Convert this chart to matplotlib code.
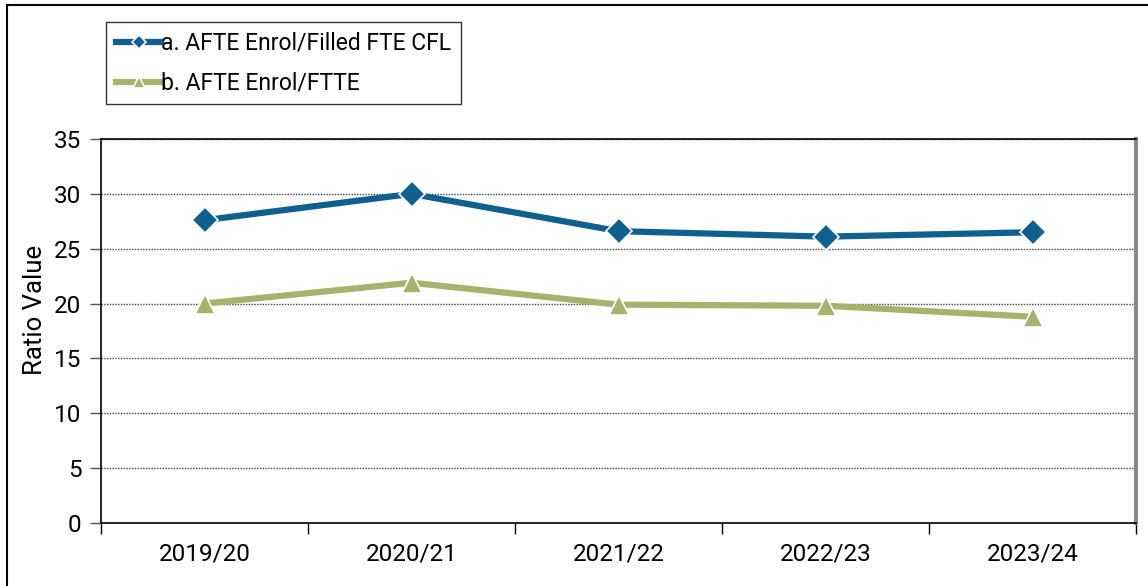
import matplotlib.pyplot as plt
from matplotlib.patches import Rectangle

years = ["2019/20", "2020/21", "2021/22", "2022/23", "2023/24"]
enrol_filled_cfl = [27.6, 30.0, 26.6, 26.1, 26.5]
enrol_ftte = [20.0, 21.9, 19.9, 19.8, 18.8]
labels = ["a. AFTE Enrol/Filled FTE CFL", "b. AFTE Enrol/FTTE"]

plt.rcParams['font.family'] = ['Roboto', 'DejaVu Sans']
fig = plt.figure(figsize=(11.48, 5.86), dpi=100)
ax = fig.add_axes([101 / 1148, 1 - 523 / 586, 1035 / 1148, 384 / 586])

x = list(range(len(years)))
ax.plot(x, enrol_filled_cfl, color='#0f5f8f', lw=4.5, marker='D', ms=13,
        mec='white', mew=1.2, label=labels[0])
ax.plot(x, enrol_ftte, color='#a5b46c', lw=4.5, marker='^', ms=15,
        mec='white', mew=1.2, label=labels[1])

ax.set_xlim(-0.5, 4.5)
ax.set_ylim(0, 35)
ax.set_yticks(range(0, 36, 5))
ax.set_xticks(x)
ax.set_xticklabels(years)
ax.set_xticks([i - 0.5 for i in range(6)], minor=True)
ax.tick_params(axis='x', which='major', length=0, labelsize=17.5, pad=14)
ax.tick_params(axis='x', which='minor', length=8, width=1, direction='out')
ax.tick_params(axis='y', labelsize=17.5, length=8, width=1, color='#555555', pad=6)
ax.grid(axis='y', ls=(0, (1, 1)), color='#444444', lw=1)
ax.set_axisbelow(True)
ax.set_ylabel("Ratio Value", fontsize=18.5)
ax.yaxis.set_label_coords(-0.052, 0.555)

for side in ['left', 'bottom', 'top']:
    ax.spines[side].set_color('black')
    ax.spines[side].set_linewidth(1.2)
ax.spines['right'].set_color('#888888')
ax.spines['right'].set_linewidth(3)

leg = fig.legend(loc='upper left', bbox_to_anchor=(106 / 1148, 1 - 22 / 586),
                 fontsize=16.5, frameon=True, fancybox=False, edgecolor='black',
                 handlelength=2.0, handletextpad=0.0, borderpad=0.42,
                 labelspacing=0.75, borderaxespad=0, markerscale=0.55)
leg.get_frame().set_linewidth(1)

fig.patches.append(Rectangle((7 / 1148, -0.1), 1.2, 1 - 5 / 586 + 0.1,
                             transform=fig.transFigure, fill=False,
                             edgecolor='black', lw=1.5))

fig.savefig("out.png", dpi=100)
